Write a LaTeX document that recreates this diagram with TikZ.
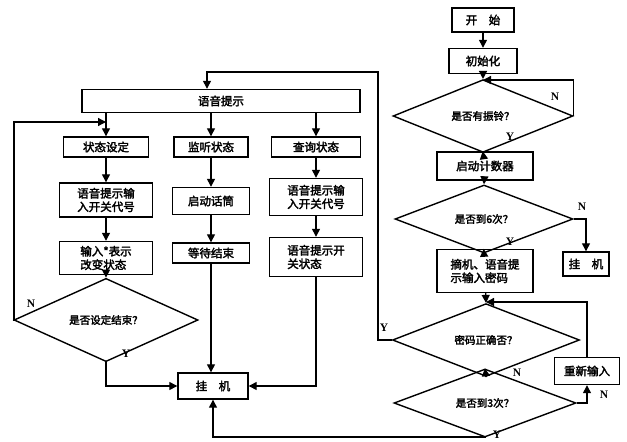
\documentclass[tikz,border=0pt]{standalone}
\usepackage{fontspec}
\newfontfamily\cjk{Noto Sans CJK SC}[FakeBold=2.5]
\newfontfamily\lat{Liberation Serif}
\usetikzlibrary{shapes.geometric,arrows.meta}
\begin{document}
\begin{tikzpicture}[x=1pt,y=-1pt,
  box/.style={draw,line width=1.4pt,align=left,inner sep=1pt,font=\cjk\fontsize{11.5}{13.5}\selectfont},
  dia/.style={draw,diamond,line width=1.4pt,inner sep=0pt,font=\cjk\fontsize{10.5}{12}\selectfont},
  arr/.style={line width=1.3pt,-{Triangle[length=8pt,width=8pt]}},
  lbl/.style={font=\lat\bfseries\fontsize{11.5}{12}\selectfont,inner sep=0pt}]
\useasboundingbox (0,0) rectangle (627,442);
% right column
\node[box,minimum width=62pt,minimum height=24pt,align=center] (start) at (483,20) {开\quad 始};
\node[box,minimum width=68pt,minimum height=25pt] (init) at (483,61) {初始化};
\node[dia,minimum width=180pt,minimum height=42pt] (d1) at (483,116) {是否有振铃？};
\node[box,minimum width=96pt,minimum height=28pt] (cnt) at (485,166) {启动计数器};
\node[dia,minimum width=178pt,minimum height=48pt] (d2) at (484,219) {是否到6次？};
\node[box,minimum width=46pt,minimum height=24pt,align=center] (hang2) at (586,264) {挂\quad 机};
\node[box,minimum width=96pt,minimum height=43pt] (pick) at (485,271) {摘机、语音提\\示输入密码};
\node[dia,minimum width=187pt,minimum height=44pt] (d3) at (486,340) {密码正确否？};
\node[box,minimum width=65pt,minimum height=27pt] (redo) at (587,371) {重新输入};
\node[dia,minimum width=182pt,minimum height=47pt] (d4) at (485,403) {是否到3次？};
% left part
\node[box,minimum width=278pt,minimum height=23pt] (voice) at (221,101) {语音提示};
\node[box,minimum width=85pt,minimum height=20pt] (s1) at (106,147) {状态设定};
\node[box,minimum width=74pt,minimum height=20pt] (m1) at (211,147) {监听状态};
\node[box,minimum width=89pt,minimum height=20pt] (q1) at (316,147) {查询状态};
\node[box,minimum width=93pt,minimum height=34pt] (a1) at (106,200) {语音提示输\\入开关代号};
\node[box,minimum width=77pt,minimum height=27pt] (m2) at (211,201) {启动话筒};
\node[box,minimum width=93pt,minimum height=37pt] (q2) at (316,197) {语音提示输\\入开关代号};
\node[box,minimum width=93pt,minimum height=33pt] (b1) at (106,258) {输入*表示\\改变状态};
\node[box,minimum width=77pt,minimum height=20pt] (m3) at (211,253) {等待结束};
\node[box,minimum width=93pt,minimum height=39pt] (q3) at (316,257) {语音提示开\\关状态};
\node[dia,minimum width=184pt,minimum height=55pt] (d5) at (106,320) {是否设定结束？};
\node[box,minimum width=70pt,minimum height=26pt,align=center] (hang1) at (213,386) {挂\quad 机};
% coordinates
\coordinate (j1) at (483,80);
\coordinate (j2) at (486,302);
\coordinate (c1) at (378,72);
\coordinate (c2) at (207,72);
\coordinate (j3) at (106,122);
\coordinate (c3) at (14,320);
\coordinate (c4) at (485,437);
% right connectors
\draw[arr] (start) -- (init);
\draw[arr] (init) -- (d1.north);
\draw[arr] (d1.east) |- (j1);
\draw[arr] (d1.south) -- (cnt);
\draw[arr] (cnt) -- (d2.north);
\draw[arr] (d2.south) -- (pick);
\draw[arr] (d2.east) -| (hang2.north);
\draw[arr] (pick) -- (d3.north);
\draw[arr] (redo.north) |- (j2);
\draw[arr] (d3.south) -- (d4.north);
\draw[arr] (d4.east) -| (redo.south);
\draw[arr] (d4.south) -- (c4) -| (hang1.south);
\draw[arr] (d3.west) -| (c1) -- (c2) -- (c2 |- voice.north);
% left connectors
\draw[arr] (s1.north |- voice.south) -- (s1.north);
\draw[arr] (m1.north |- voice.south) -- (m1.north);
\draw[arr] (q1.north |- voice.south) -- (q1.north);
\draw[arr] (s1) -- (a1);
\draw[arr] (a1) -- (b1);
\draw[arr] (b1) -- (d5.north);
\draw[arr] (m1) -- (m2);
\draw[arr] (m2) -- (m3);
\draw[arr] (m3.south) -- (m3.south |- hang1.north);
\draw[arr] (q1) -- (q2);
\draw[arr] (q2) -- (q3);
\draw[arr] (q3.south) |- (hang1.east);
\draw[arr] (d5.west) -- (c3) |- (j3);
\draw[arr] (d5.south) |- (hang1.west);
% labels
\node[lbl] (n1) at (555,97) {N};
\node[lbl] (y1) at (510,137) {Y};
\node[lbl] (n2) at (582,207) {N};
\node[lbl] (y2) at (510,242) {Y};
\node[lbl] (y3) at (384,328) {Y};
\node[lbl] (n3) at (517,373) {N};
\node[lbl] (n4) at (604,395) {N};
\node[lbl] (y4) at (497,435) {Y};
\node[lbl] (n5) at (31,304) {N};
\node[lbl] (y5) at (126,354) {Y};
\end{tikzpicture}
\end{document}
